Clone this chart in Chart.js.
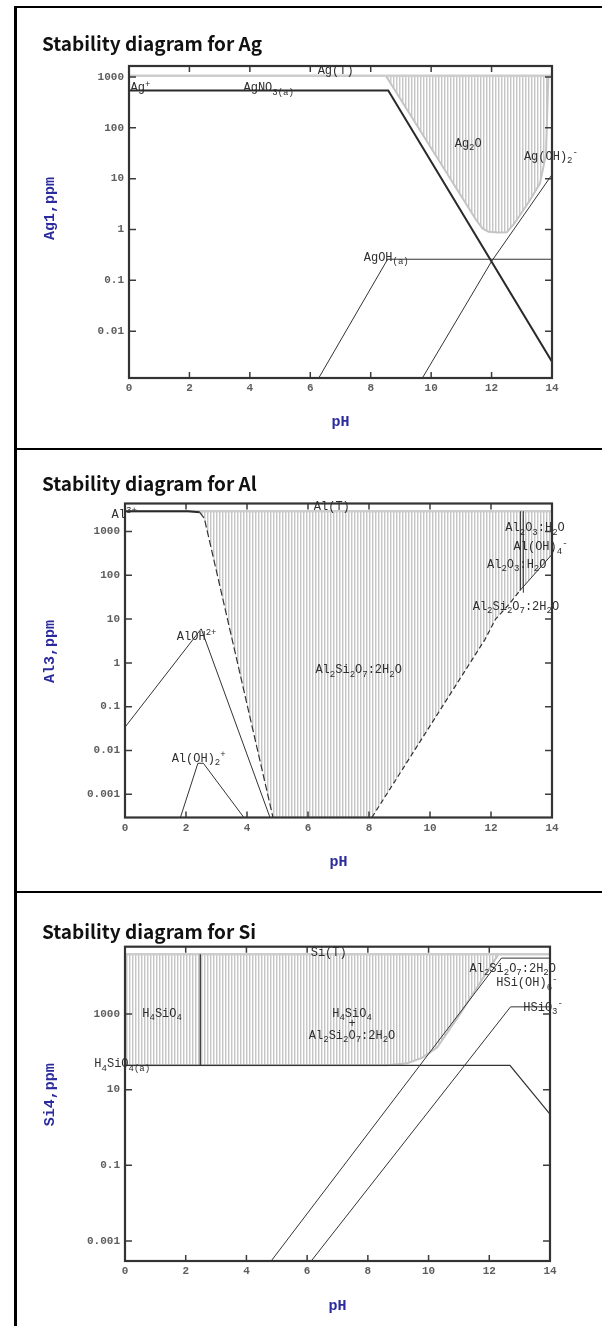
<!DOCTYPE html>
<html><head><meta charset="utf-8">
<script src="https://cdn.jsdelivr.net/npm/chart.js@4.4.0/dist/chart.umd.min.js"></script>
<style>
html,body{margin:0;padding:0;background:#fff;width:602px;height:1326px;overflow:hidden;position:relative}
.wrap{position:absolute;left:0;width:602px}
.title{position:absolute;left:42px;font:bold 19px "Noto Sans CJK KR","Noto Sans",sans-serif;color:#111;white-space:nowrap;line-height:19px;z-index:3}
.hl{position:absolute;left:14px;width:588px;height:2px;background:#000;z-index:4}
.vl{position:absolute;left:14px;top:6px;width:3px;height:1320px;background:#000;z-index:4}
canvas{display:block}
</style></head><body>
<div class="vl"></div>
<div class="hl" style="top:6px"></div>
<div class="hl" style="top:448px"></div>
<div class="hl" style="top:891px"></div>
<div class="title" style="top:33px">Stability diagram for Ag</div>
<div class="title" style="top:473px">Stability diagram for Al</div>
<div class="title" style="top:921px">Stability diagram for Si</div>
<div class="wrap" style="top:0;height:450px"><canvas id="cAg" width="602" height="450"></canvas></div>
<div class="wrap" style="top:450px;height:442px"><canvas id="cAl" width="602" height="442"></canvas></div>
<div class="wrap" style="top:892px;height:434px"><canvas id="cSi" width="602" height="434"></canvas></div>
<script>
// ---------- shared ----------
const xTicks = [0, 2, 4, 6, 8, 10, 12, 14];

// ---------- Ag ----------
const agYTicks = [1000, 100, 10, 1, 0.1, 0.01];
const agYLabels = ['1000', '100', '10', '1', '0.1', '0.01'];
const agTotPH = [0, 14];            const agTot = [1060, 1060];
const agNO3PH = [0, 8.58, 14];      const agNO3 = [540, 540, 0.0025];
const ag2OPH = [8.5, 11.5, 11.7, 11.9, 12.2, 12.5, 12.75, 13.26, 13.6, 13.8, 13.88];
const ag2O   = [1060, 1.5, 1.05, 0.9, 0.87, 0.88, 1.3, 3.7, 8, 30, 1060];
const agOH2PH = [9.71, 12, 14];     const agOH2 = [0.0012, 0.236, 12];
const agOHPH = [6.28, 8.56, 14];    const agOH = [0.0012, 0.26, 0.26];
const agLabels = [
  {x: 6.84, y: 1311, t: 'Ag(T)', a: 'c'},
  {x: 0.05, y: 600, t: 'Ag^{+}', a: 'l'},
  {x: 3.79, y: 600, t: 'AgNO_{3(a)}', a: 'l'},
  {x: 10.78, y: 48.8, t: 'Ag_{2}O', a: 'l'},
  {x: 13.07, y: 27, t: 'Ag(OH)_{2}^{-}', a: 'l'},
  {x: 7.77, y: 0.279, t: 'AgOH_{(a)}', a: 'l'}
];

// ---------- Al ----------
const alYTicks = [1000, 100, 10, 1, 0.1, 0.01, 0.001];
const alYLabels = ['1000', '100', '10', '1', '0.1', '0.01', '0.001'];
const alTotPH = [0, 14];             const alTot = [2900, 2900];
const al3PH = [0, 2.07, 2.45];       const al3 = [2900, 2900, 2750];
const alShadePH = [2.45, 2.6, 4.85, 8.1, 11.8, 12.15, 12.6, 12.95, 14];
const alShade   = [2750, 2000, 0.0003, 0.0003, 3.4, 10, 22, 45, 300];
const alLDashPH = [2.45, 2.6, 4.85]; const alLDash = [2750, 2000, 0.0003];
const alRDashPH = [8.1, 11.8, 12.15, 12.6, 12.95]; const alRDash = [0.0003, 3.4, 10, 22, 45];
const alV1PH = [12.97, 12.97];       const alV1 = [45, 2900];
const alV2PH = [13.06, 13.06];       const alV2 = [40, 2900];
const alOH4PH = [12.95, 14];         const alOH4 = [45, 300];
const alOHPH = [0, 2.5, 4.75];       const alOH = [0.034, 6, 0.0003];
const alOH2PH = [1.82, 2.39, 2.57, 3.89]; const alOH2 = [0.0003, 0.0051, 0.0051, 0.0003];
const alLabels = [
  {x: -0.44, y: 2380, t: 'Al^{3+}', a: 'l'},
  {x: 6.78, y: 3680, t: 'Al(T)', a: 'c'},
  {x: 12.47, y: 1183, t: 'Al_{2}O_{3}:H_{2}O', a: 'l'},
  {x: 12.74, y: 436, t: 'Al(OH)_{4}^{-}', a: 'l'},
  {x: 11.87, y: 172, t: 'Al_{2}O_{3}:H_{2}O', a: 'l'},
  {x: 11.4, y: 19, t: 'Al_{2}Si_{2}O_{7}:2H_{2}O', a: 'l'},
  {x: 1.7, y: 3.97, t: 'AlOH^{2+}', a: 'l'},
  {x: 7.66, y: 0.68, t: 'Al_{2}Si_{2}O_{7}:2H_{2}O', a: 'c'},
  {x: 1.53, y: 0.0066, t: 'Al(OH)_{2}^{+}', a: 'l'}
];

// ---------- Si ----------
const siYTicks = [1000, 10, 0.1, 0.001];
const siYLabels = ['1000', '10', '0.1', '0.001'];
const siTotPH = [0, 14];               const siTot = [37700, 37700];
const siShadePH = [0, 8.64, 9.3, 9.8, 10.28, 11.04, 11.5, 12.3];
const siShade   = [44, 44, 50, 70, 130, 1000, 3800, 37700];
const siH4PH = [0, 12.68, 14];         const siH4 = [44, 44, 2.25];
const siVPH = [2.48, 2.48];            const siV = [44, 37700];
const siKaolPH = [4.82, 12.4, 14];     const siKaol = [0.0003, 30000, 30000];
const siHSiO3PH = [6.14, 12.7, 14];    const siHSiO3 = [0.0003, 1545, 1545];
const siLabels = [
  {x: 6.71, y: 40200, t: 'Si(T)', a: 'c'},
  {x: 11.35, y: 15500, t: 'Al_{2}Si_{2}O_{7}:2H_{2}O', a: 'l'},
  {x: 12.23, y: 6470, t: 'HSi(OH)_{6}^{-}', a: 'l'},
  {x: 13.12, y: 1500, t: 'HSiO_{3}^{-}', a: 'l'},
  {x: 0.57, y: 1000, t: 'H_{4}SiO_{4}', a: 'l'},
  {x: 7.48, y: 1000, t: 'H_{4}SiO_{4}', a: 'c'},
  {x: 7.48, y: 544, t: '+', a: 'c'},
  {x: 7.48, y: 267, t: 'Al_{2}Si_{2}O_{7}:2H_{2}O', a: 'c'},
  {x: -1.01, y: 47, t: 'H_{4}SiO_{4(a)}', a: 'l'}
];

// ---------- helpers ----------
const pts = (xs, ys) => xs.map((x, i) => ({x: x, y: ys[i]}));
const tickFont = {family: '"Liberation Mono", monospace', size: 11, weight: 'bold'};
const axFont = {family: '"Liberation Mono", monospace', size: 15, weight: 'bold'};
const tickColor = '#5e5e5e';
const axColor = '#2b2b9e';

function hatch(ctx) {
  const c = document.createElement('canvas');
  c.width = 3; c.height = 4;
  const g = c.getContext('2d');
  g.fillStyle = '#ffffff'; g.fillRect(0, 0, 3, 4);
  g.fillStyle = '#c6c6c6'; g.fillRect(0, 0, 1, 4);
  g.fillStyle = '#e6e6e6'; g.fillRect(1, 0, 1, 4);
  return ctx.createPattern(c, 'repeat');
}

function line(xs, ys, color, width, extra) {
  return Object.assign({data: pts(xs, ys), borderColor: color, borderWidth: width,
    pointRadius: 0, fill: false, tension: 0, order: 1}, extra || {});
}

const framePlugin = {
  id: 'frame',
  afterDatasetsDraw(chart) {
    const {ctx, chartArea: a} = chart;
    const sx = chart.scales.x, sy = chart.scales.y;
    ctx.save();
    ctx.strokeStyle = '#3c3c3c';
    ctx.lineWidth = 1.5;
    ctx.beginPath();
    sx.ticks.forEach(t => {
      const p = sx.getPixelForValue(t.value);
      if (p <= a.left + 1 || p >= a.right - 1) return;
      ctx.moveTo(p, a.bottom); ctx.lineTo(p, a.bottom - 6);
      ctx.moveTo(p, a.top); ctx.lineTo(p, a.top + 6);
    });
    sy.ticks.forEach(t => {
      const p = sy.getPixelForValue(t.value);
      if (p <= a.top + 1 || p >= a.bottom - 1) return;
      ctx.moveTo(a.left, p); ctx.lineTo(a.left + 7, p);
      ctx.moveTo(a.right, p); ctx.lineTo(a.right - 7, p);
    });
    ctx.stroke();
    ctx.lineWidth = 2.2;
    ctx.strokeStyle = '#333';
    ctx.strokeRect(a.left, a.top, a.right - a.left, a.bottom - a.top);
    ctx.restore();
  }
};

function parseLabel(t) {
  const out = []; let buf = ''; let i = 0;
  while (i < t.length) {
    const c = t[i];
    if ((c === '_' || c === '^') && t[i + 1] === '{') {
      if (buf) { out.push({s: buf, m: 0}); buf = ''; }
      const j = t.indexOf('}', i);
      out.push({s: t.slice(i + 2, j), m: c === '_' ? 1 : -1});
      i = j + 1;
    } else { buf += c; i++; }
  }
  if (buf) out.push({s: buf, m: 0});
  return out;
}

function labelPlugin(labels) {
  return {
    id: 'chemLabels',
    afterDatasetsDraw(chart) {
      const ctx = chart.ctx;
      const sx = chart.scales.x, sy = chart.scales.y;
      const big = '12px "Liberation Mono", monospace';
      const small = '9px "Liberation Mono", monospace';
      ctx.save();
      ctx.fillStyle = '#2e2e2e';
      ctx.textBaseline = 'middle';
      ctx.textAlign = 'left';
      labels.forEach(L => {
        const segs = parseLabel(L.t);
        let w = 0;
        segs.forEach(s => { ctx.font = s.m ? small : big; s.w = ctx.measureText(s.s).width; w += s.w; });
        let px = sx.getPixelForValue(L.x);
        const py = sy.getPixelForValue(L.y);
        if (L.a === 'c') px -= w / 2;
        segs.forEach(s => {
          ctx.font = s.m ? small : big;
          ctx.fillText(s.s, px, py + (s.m === 1 ? 4 : s.m === -1 ? -4 : 0));
          px += s.w;
        });
      });
      ctx.restore();
    }
  };
}

function build(id, o) {
  const cv = document.getElementById(id);
  const ctx = cv.getContext('2d');
  const pat = hatch(ctx);
  return new Chart(ctx, {
    type: 'line',
    data: {datasets: o.datasets(pat)},
    options: {
      responsive: false, animation: false, events: [],
      layout: {padding: {left: o.padL, right: o.padR, top: o.padT, bottom: 0}},
      plugins: {legend: {display: false}, tooltip: {enabled: false}, title: {display: false}},
      scales: {
        x: {
          type: 'linear', min: 0, max: 14,
          afterBuildTicks: s => { s.ticks = xTicks.map(v => ({value: v})); },
          afterFit: s => { s.height = o.xH; },
          grid: {display: false, drawTicks: false}, border: {display: false},
          ticks: {font: tickFont, color: tickColor, padding: 4, maxRotation: 0, autoSkip: false,
                  callback: v => String(v)},
          title: {display: true, text: 'pH', font: axFont, color: axColor,
                  padding: {top: 0, bottom: o.xTitlePad}}
        },
        y: {
          type: 'logarithmic', min: o.min, max: o.max,
          afterBuildTicks: s => { s.ticks = o.yTicks.map(v => ({value: v})); },
          afterFit: s => { s.width = o.yW; },
          grid: {display: false, drawTicks: false}, border: {display: false},
          ticks: {font: tickFont, color: tickColor, padding: 5, autoSkip: false,
                  callback: (v, i) => o.yLabels[i]},
          title: {display: true, text: o.yTitle, font: axFont, color: axColor,
                  padding: {top: 3, bottom: 0}}
        }
      }
    },
    plugins: [framePlugin, labelPlugin(o.labels)]
  });
}

const GRAY = '#c4c4c4', BLK = '#2a2a2a';

build('cAg', {
  padL: 38, yW: 91, padR: 50, padT: 66, xH: 72, xTitlePad: 19,
  min: 0.0012, max: 1642, yTicks: agYTicks, yLabels: agYLabels, yTitle: '   Ag1,ppm', labels: agLabels,
  datasets: pat => [
    line(ag2OPH, ag2O, GRAY, 2, {fill: {target: {value: 1060}}, backgroundColor: pat, order: 10}),
    line(agTotPH, agTot, '#cdcdcd', 2.5, {order: 9}),
    line(agNO3PH, agNO3, BLK, 2),
    line(agOH2PH, agOH2, '#333', 1),
    line(agOHPH, agOH, '#333', 1)
  ]
});

build('cAl', {
  padL: 38, yW: 87, padR: 50, padT: 53.5, xH: 74.5, xTitlePad: 20.3,
  min: 0.000295, max: 4360, yTicks: alYTicks, yLabels: alYLabels, yTitle: '  Al3,ppm', labels: alLabels,
  datasets: pat => [
    line(alShadePH, alShade, 'rgba(0,0,0,0)', 0, {fill: {target: {value: 2900}}, backgroundColor: pat, order: 10}),
    line(alTotPH, alTot, '#cdcdcd', 2.5, {order: 9}),
    line(al3PH, al3, BLK, 2),
    line(alLDashPH, alLDash, '#333', 1.2, {borderDash: [7, 3]}),
    line(alRDashPH, alRDash, '#333', 1.2, {borderDash: [5, 3]}),
    line(alV1PH, alV1, '#333', 1),
    line(alV2PH, alV2, '#333', 1),
    line(alOH4PH, alOH4, '#333', 1),
    line(alOHPH, alOH, '#333', 1),
    line(alOH2PH, alOH2, '#333', 1)
  ]
});

build('cSi', {
  padL: 38, yW: 87, padR: 52, padT: 54.7, xH: 65, xTitlePad: 10.3,
  min: 0.000296, max: 60100, yTicks: siYTicks, yLabels: siYLabels, yTitle: '  Si4,ppm', labels: siLabels,
  datasets: pat => [
    line(siShadePH, siShade, GRAY, 2, {fill: {target: {value: 37700}}, backgroundColor: pat, order: 10}),
    line(siTotPH, siTot, '#cdcdcd', 2.5, {order: 9}),
    line(siH4PH, siH4, '#333', 1.3),
    line(siVPH, siV, '#333', 1.3),
    line(siKaolPH, siKaol, '#333', 1),
    line(siHSiO3PH, siHSiO3, '#333', 1)
  ]
});
</script>
</body></html>
